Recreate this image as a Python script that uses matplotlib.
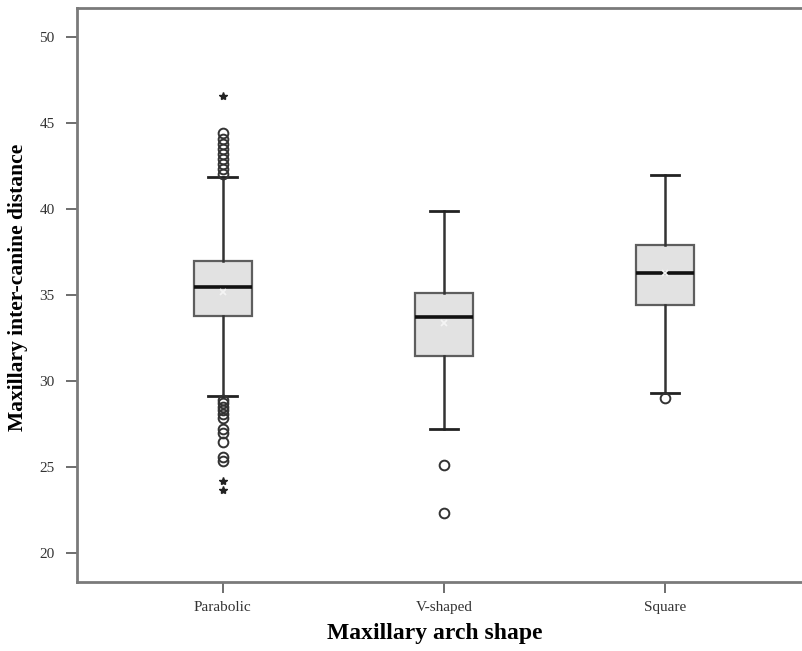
import matplotlib.pyplot as plt
import numpy as np

plt.rcParams['font.family'] = ['Liberation Serif', 'DejaVu Serif']

shapes = ['Parabolic', 'V-shaped', 'Square']
q1 = [33.8, 31.45, 34.4]
med = [35.45, 33.72, 36.28]
q3 = [36.95, 35.1, 37.9]
whislo = [29.1, 27.2, 29.3]
whishi = [41.85, 39.9, 41.98]
means = [35.2, 33.4, 36.3]

# outliers (circles) and extremes (stars)
outliers = [
    [44.4, 44.1, 43.8, 43.5, 43.2, 42.9, 42.6, 42.3, 42.05,
     28.9, 28.7, 28.5, 28.3, 28.1, 27.85, 27.2, 27.0, 26.45, 25.6, 25.35],
    [25.1, 22.3],
    [29.0],
]
extremes = [[46.6, 24.2, 23.65], [], []]

stats = []
for i in range(3):
    stats.append({'q1': q1[i], 'med': med[i], 'q3': q3[i],
                  'whislo': whislo[i], 'whishi': whishi[i],
                  'mean': means[i], 'fliers': outliers[i],
                  'label': shapes[i]})

fig = plt.figure(figsize=(8.03, 6.51), dpi=100)
ax = fig.add_axes([77 / 803, 1 - 582 / 651, 726 / 803, 574 / 651])

ax.bxp(stats, positions=[1, 2, 3], widths=0.26, patch_artist=True,
       showmeans=True, capwidths=0.13,
       boxprops=dict(facecolor='#e2e2e2', edgecolor='#5e5e5e', linewidth=1.6),
       medianprops=dict(color='#111111', linewidth=2.6),
       whiskerprops=dict(color='#333333', linewidth=1.8),
       capprops=dict(color='#222222', linewidth=2.0),
       meanprops=dict(marker='x', markeredgecolor='#f4f4f4', markersize=5,
                      markeredgewidth=1.3),
       flierprops=dict(marker='o', markerfacecolor='none',
                       markeredgecolor='#333333', markersize=7,
                       markeredgewidth=1.4))

for i, ext in enumerate(extremes):
    if ext:
        ax.plot([i + 1] * len(ext), ext, linestyle='none', marker='*',
                color='#222222', markersize=6)

ax.set_xlim(0.34, 3.625)
ax.set_ylim(18.31, 51.69)
ax.set_yticks([20, 25, 30, 35, 40, 45, 50])
ax.set_xticks([1, 2, 3])
ax.set_xticklabels(shapes)

for s in ['left', 'bottom', 'top']:
    ax.spines[s].set_color('#7a7a7a')
    ax.spines[s].set_linewidth(2)
ax.spines['right'].set_visible(False)

ax.tick_params(axis='both', colors='#555555', labelcolor='#333333',
               labelsize=11, width=1.2, length=8)
ax.tick_params(axis='y', pad=8)
ax.tick_params(axis='x', pad=6)

ax.set_ylabel('Maxillary inter-canine distance', fontsize=15.5,
              fontweight='bold')
ax.set_xlabel('Maxillary arch shape', fontsize=17, fontweight='bold')
ax.yaxis.set_label_coords(-0.068, 0.514)
ax.xaxis.set_label_coords(0.493, -0.072)

fig.savefig('out.png', dpi=100)
